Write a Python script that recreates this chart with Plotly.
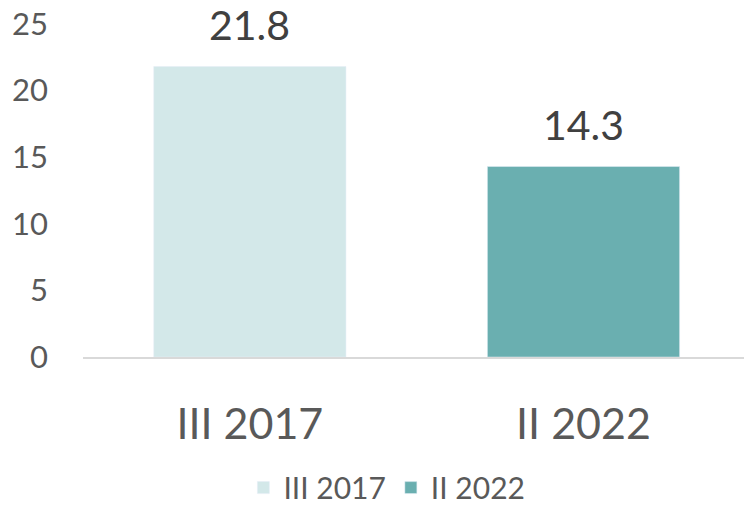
import plotly.graph_objects as go

# Data
periods = ["III 2017", "II 2022"]
values = [21.8, 14.3]
labels = ["21.8", "14.3"]
colors = ["#d3e8e9", "#6aafb0"]
y_ticks = [0, 5, 10, 15, 20, 25]

FONT = "Lato"

fig = go.Figure()
for period, val, col in zip(periods, values, colors):
    fig.add_trace(go.Bar(x=[period], y=[val], name=period, marker_color=col,
                         width=0.576, hoverinfo="skip"))

# value labels above bars
for period, val, lab in zip(periods, values, labels):
    fig.add_annotation(x=period, y=val, text=lab, showarrow=False,
                       yanchor="bottom", yshift=16,
                       font=dict(family=FONT, size=41, color="#404040"))

fig.update_layout(
    width=744, height=509,
    margin=dict(l=83, r=0, t=24, b=152, autoexpand=False),
    plot_bgcolor="white", paper_bgcolor="white",
    barmode="overlay",
    showlegend=True,
    legend=dict(orientation="h", xref="container", x=0.52, xanchor="center",
                yref="container", y=0.042, yanchor="middle",
                font=dict(family=FONT, size=30, color="#595959"),
                itemwidth=30, traceorder="normal"),
)
fig.update_xaxes(range=[-0.5, 1.481], showline=True, linecolor="#d9d9d9", linewidth=2,
                 ticks="", ticklabelstandoff=28, automargin=False,
                 tickfont=dict(family=FONT, size=43, color="#595959"))
fig.update_yaxes(range=[0, 25], tickvals=y_ticks, showgrid=False, zeroline=False,
                 showline=False, ticks="", ticklabelstandoff=34, automargin=False,
                 tickfont=dict(family=FONT, size=31, color="#595959"))

# drop the default body margin so the figure sits at the window's corner
fig.write_html("out.html", config={"displayModeBar": False},
               post_script="document.body.style.margin='0';")
